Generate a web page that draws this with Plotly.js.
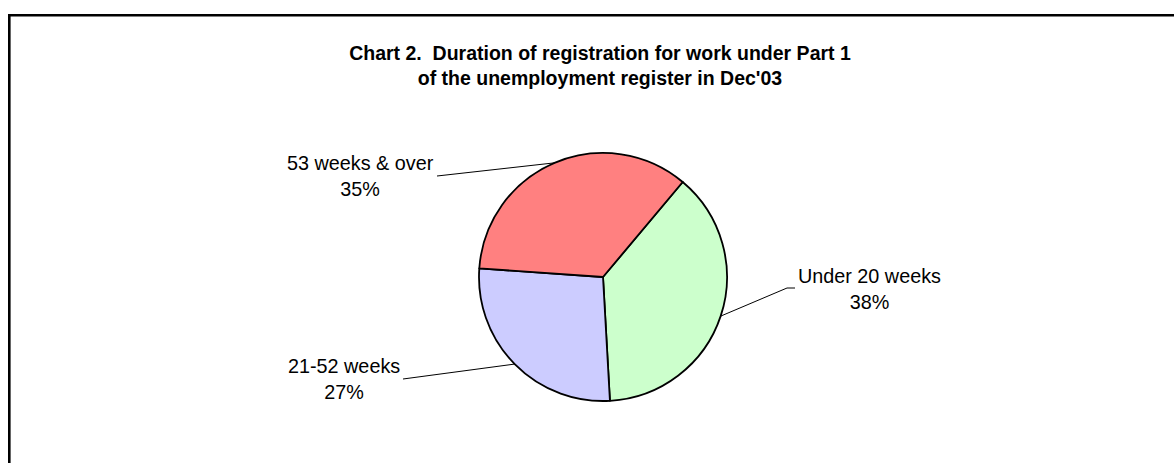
<!DOCTYPE html>
<html>
<head>
<meta charset="utf-8">
<script src="https://cdn.plot.ly/plotly-3.0.1.min.js"></script>
<style>
  html, body { margin: 0; padding: 0; background: #fff; }
  #chart { width: 1174px; height: 463px; }
</style>
</head>
<body>
<div id="chart"></div>
<script>
// ---- data ----
const categories = ["Under 20 weeks", "21-52 weeks", "53 weeks & over"];
const shares = [38, 27, 35];
const sliceColors = ["#CCFFCC", "#CCCCFF", "#FF8080"];
const titleText = "Chart 2.&nbsp; Duration of registration for work under Part 1<br>of the unemployment register in Dec'03";

// ---- layout geometry (pixels) ----
const W = 1174, H = 463;
const cx = 603, cy = 277, R = 124;
const rotationDeg = 40;
// label centres and leader anchor points (layout, not data)
const labelPos = [
  {x: 869, y: 289, path: [[795, 288], [787, 288]]},
  {x: 344, y: 379, path: [[403, 379]]},
  {x: 360, y: 176, path: [[437, 176]]}
];

const px = x => x / W;
const py = y => 1 - y / H;

const total = shares.reduce((a, b) => a + b, 0);
const shapes = [];
const annotations = [];
let cum = 0;
shares.forEach((v, i) => {
  const mid = (rotationDeg + 360 * (cum + v / 2) / total) * Math.PI / 180;
  cum += v;
  const ex = cx + R * Math.sin(mid), ey = cy - R * Math.cos(mid);
  const pts = labelPos[i].path.concat([[ex, ey]]);
  let d = "";
  pts.forEach((p, k) => { d += (k === 0 ? "M" : "L") + px(p[0]) + "," + py(p[1]) + " "; });
  shapes.push({type: "path", xref: "paper", yref: "paper", path: d.trim(),
    line: {color: "#000", width: 1}});
  const pct = Math.round(100 * v / total);
  annotations.push({xref: "paper", yref: "paper", x: px(labelPos[i].x), y: py(labelPos[i].y),
    xanchor: "center", yanchor: "middle", showarrow: false, align: "center",
    text: categories[i] + "<br>" + pct + "%",
    font: {family: "Liberation Sans, Arial, sans-serif", size: 19.8, color: "#000"}});
});

// chart frame (partly visible)
shapes.push({type: "rect", xref: "paper", yref: "paper",
  x0: px(9.3), x1: 1.2, y0: -0.2, y1: py(15.3),
  line: {color: "#000", width: 2.6}, fillcolor: "rgba(0,0,0,0)"});

const trace = {
  type: "pie",
  labels: categories,
  values: shares,
  sort: false,
  direction: "clockwise",
  rotation: rotationDeg,
  textinfo: "none",
  hoverinfo: "label+percent",
  marker: {colors: sliceColors, line: {color: "#000", width: 1.8}},
  domain: {x: [px(cx - R), px(cx + R)], y: [py(cy + R), py(cy - R)]},
  showlegend: false
};

const layout = {
  width: W, height: H,
  margin: {l: 0, r: 0, t: 0, b: 0},
  paper_bgcolor: "#fff",
  plot_bgcolor: "#fff",
  title: {text: titleText, x: px(600), xanchor: "center", y: py(60), yref: "container", yanchor: "middle",
    font: {family: "Liberation Sans, Arial, sans-serif", size: 19.5, color: "#000", weight: "bold"}},
  shapes: shapes,
  annotations: annotations,
  showlegend: false
};

Plotly.newPlot("chart", [trace], layout, {displayModeBar: false, staticPlot: true});
</script>
</body>
</html>
